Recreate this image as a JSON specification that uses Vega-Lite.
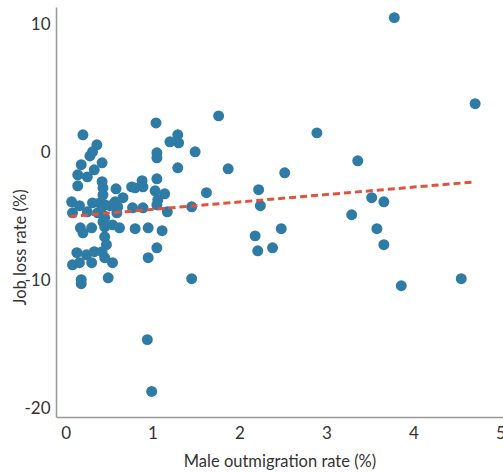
{
  "$schema": "https://vega.github.io/schema/vega-lite/v6.json",
  "width": 447,
  "height": 410,
  "autosize": {"type": "none"},
  "padding": {"left": 56, "top": 7, "right": 0, "bottom": 55},
  "background": "white",
  "config": {
    "view": {"stroke": null},
    "font": "Lato",
    "axis": {
      "grid": false,
      "ticks": false,
      "domainColor": "#999999",
      "domainWidth": 1.5,
      "labelColor": "#333333",
      "labelFontSize": 17,
      "labelFont": "Lato",
      "titleColor": "#333333",
      "titleFontSize": 16.5,
      "titleFont": "Lato",
      "titleFontWeight": "normal"
    }
  },
  "datasets": {
    "pts": [
      {"mig": 3.78, "loss": 10.57},
      {"mig": 4.71, "loss": 3.84},
      {"mig": 1.76, "loss": 2.89},
      {"mig": 2.89, "loss": 1.56},
      {"mig": 3.36, "loss": -0.62},
      {"mig": 1.87, "loss": -1.25},
      {"mig": 2.52, "loss": -1.56},
      {"mig": 2.22, "loss": -2.88},
      {"mig": 2.24, "loss": -4.13},
      {"mig": 3.52, "loss": -3.51},
      {"mig": 3.66, "loss": -3.83},
      {"mig": 3.29, "loss": -4.84},
      {"mig": 2.18, "loss": -6.49},
      {"mig": 2.48, "loss": -5.93},
      {"mig": 3.58, "loss": -5.93},
      {"mig": 3.66, "loss": -7.18},
      {"mig": 2.21, "loss": -7.66},
      {"mig": 2.38, "loss": -7.42},
      {"mig": 3.86, "loss": -10.39},
      {"mig": 4.55, "loss": -9.84},
      {"mig": 1.45, "loss": -9.84},
      {"mig": 0.94, "loss": -14.6},
      {"mig": 0.99, "loss": -18.65},
      {"mig": 1.04, "loss": 2.34},
      {"mig": 1.2, "loss": 0.86},
      {"mig": 1.29, "loss": 1.41},
      {"mig": 1.3, "loss": 0.78},
      {"mig": 1.05, "loss": 0.0},
      {"mig": 1.05, "loss": -0.39},
      {"mig": 1.49, "loss": 0.08},
      {"mig": 1.29, "loss": -1.17},
      {"mig": 1.05, "loss": -2.03},
      {"mig": 0.88, "loss": -2.18},
      {"mig": 0.89, "loss": -2.66},
      {"mig": 0.8, "loss": -2.74},
      {"mig": 1.03, "loss": -2.97},
      {"mig": 1.14, "loss": -3.2},
      {"mig": 1.06, "loss": -3.67},
      {"mig": 1.05, "loss": -4.06},
      {"mig": 1.17, "loss": -4.61},
      {"mig": 0.77, "loss": -4.3},
      {"mig": 0.89, "loss": -4.3},
      {"mig": 1.45, "loss": -4.22},
      {"mig": 1.62, "loss": -3.12},
      {"mig": 0.8, "loss": -5.93},
      {"mig": 0.95, "loss": -5.86},
      {"mig": 1.11, "loss": -6.09},
      {"mig": 1.05, "loss": -7.42},
      {"mig": 0.95, "loss": -8.2},
      {"mig": 0.2, "loss": 1.41},
      {"mig": 0.36, "loss": 0.63},
      {"mig": 0.31, "loss": 0.08},
      {"mig": 0.28, "loss": -0.24},
      {"mig": 0.42, "loss": -0.78},
      {"mig": 0.18, "loss": -0.93},
      {"mig": 0.33, "loss": -1.33},
      {"mig": 0.14, "loss": -1.72},
      {"mig": 0.25, "loss": -1.88},
      {"mig": 0.14, "loss": -2.58},
      {"mig": 0.42, "loss": -2.26},
      {"mig": 0.43, "loss": -2.74},
      {"mig": 0.43, "loss": -3.28},
      {"mig": 0.58, "loss": -2.81},
      {"mig": 0.76, "loss": -2.66},
      {"mig": 0.07, "loss": -3.83},
      {"mig": 0.16, "loss": -4.13},
      {"mig": 0.08, "loss": -4.69},
      {"mig": 0.31, "loss": -3.91},
      {"mig": 0.39, "loss": -3.91},
      {"mig": 0.45, "loss": -4.06},
      {"mig": 0.51, "loss": -4.13},
      {"mig": 0.57, "loss": -3.83},
      {"mig": 0.66, "loss": -3.51},
      {"mig": 0.6, "loss": -4.22},
      {"mig": 0.25, "loss": -4.61},
      {"mig": 0.37, "loss": -4.69},
      {"mig": 0.43, "loss": -4.84},
      {"mig": 0.45, "loss": -5.08},
      {"mig": 0.59, "loss": -4.69},
      {"mig": 0.17, "loss": -5.86},
      {"mig": 0.2, "loss": -6.25},
      {"mig": 0.3, "loss": -5.86},
      {"mig": 0.43, "loss": -5.39},
      {"mig": 0.45, "loss": -5.78},
      {"mig": 0.54, "loss": -5.63},
      {"mig": 0.62, "loss": -5.86},
      {"mig": 0.45, "loss": -6.56},
      {"mig": 0.47, "loss": -7.18},
      {"mig": 0.13, "loss": -7.81},
      {"mig": 0.08, "loss": -8.75},
      {"mig": 0.16, "loss": -8.59},
      {"mig": 0.24, "loss": -7.97},
      {"mig": 0.33, "loss": -7.73},
      {"mig": 0.42, "loss": -7.73},
      {"mig": 0.3, "loss": -8.59},
      {"mig": 0.45, "loss": -8.2},
      {"mig": 0.54, "loss": -8.59},
      {"mig": 0.18, "loss": -9.92},
      {"mig": 0.18, "loss": -10.23},
      {"mig": 0.49, "loss": -9.77}
    ],
    "fit": [
      {"mig": 0.05, "loss": -4.97},
      {"mig": 4.71, "loss": -2.27}
    ]
  },
  "layer": [
    {
      "mark": {"type": "rule", "color": "#9a9a9a", "strokeWidth": 1.5},
      "encoding": {"y": {"datum": 0, "type": "quantitative", "scale": {"domain": [-20.65, 11.4], "nice": false, "zero": false}}}
    },
    {
      "data": {"name": "pts"},
      "mark": {"type": "circle", "size": 120, "color": "#2e7ca5", "opacity": 1},
      "encoding": {
        "x": {
          "field": "mig", "type": "quantitative",
          "scale": {"domain": [-0.11, 5.03], "nice": false, "zero": false},
          "axis": {"values": [0, 1, 2, 3, 4, 5], "labelExpr": "'' + datum.value", "title": "Male outmigration rate (%)", "labelPadding": 8, "titleY": 44, "titleBaseline": "middle"}
        },
        "y": {
          "field": "loss", "type": "quantitative",
          "scale": {"domain": [-20.65, 11.4], "nice": false, "zero": false},
          "axis": {"values": [-20, -10, 0, 10], "labelExpr": "'' + datum.value", "title": "Job loss rate (%)", "labelPadding": 6, "titleX": -36, "titleY": 240, "titleAngle": -90, "titleBaseline": "middle", "titleAlign": "center"}
        }
      }
    },
    {
      "data": {"name": "fit"},
      "mark": {"type": "line", "color": "#e0533d", "strokeWidth": 3, "strokeDash": [7, 4]},
      "encoding": {
        "x": {"field": "mig", "type": "quantitative"},
        "y": {"field": "loss", "type": "quantitative"}
      }
    }
  ]
}
